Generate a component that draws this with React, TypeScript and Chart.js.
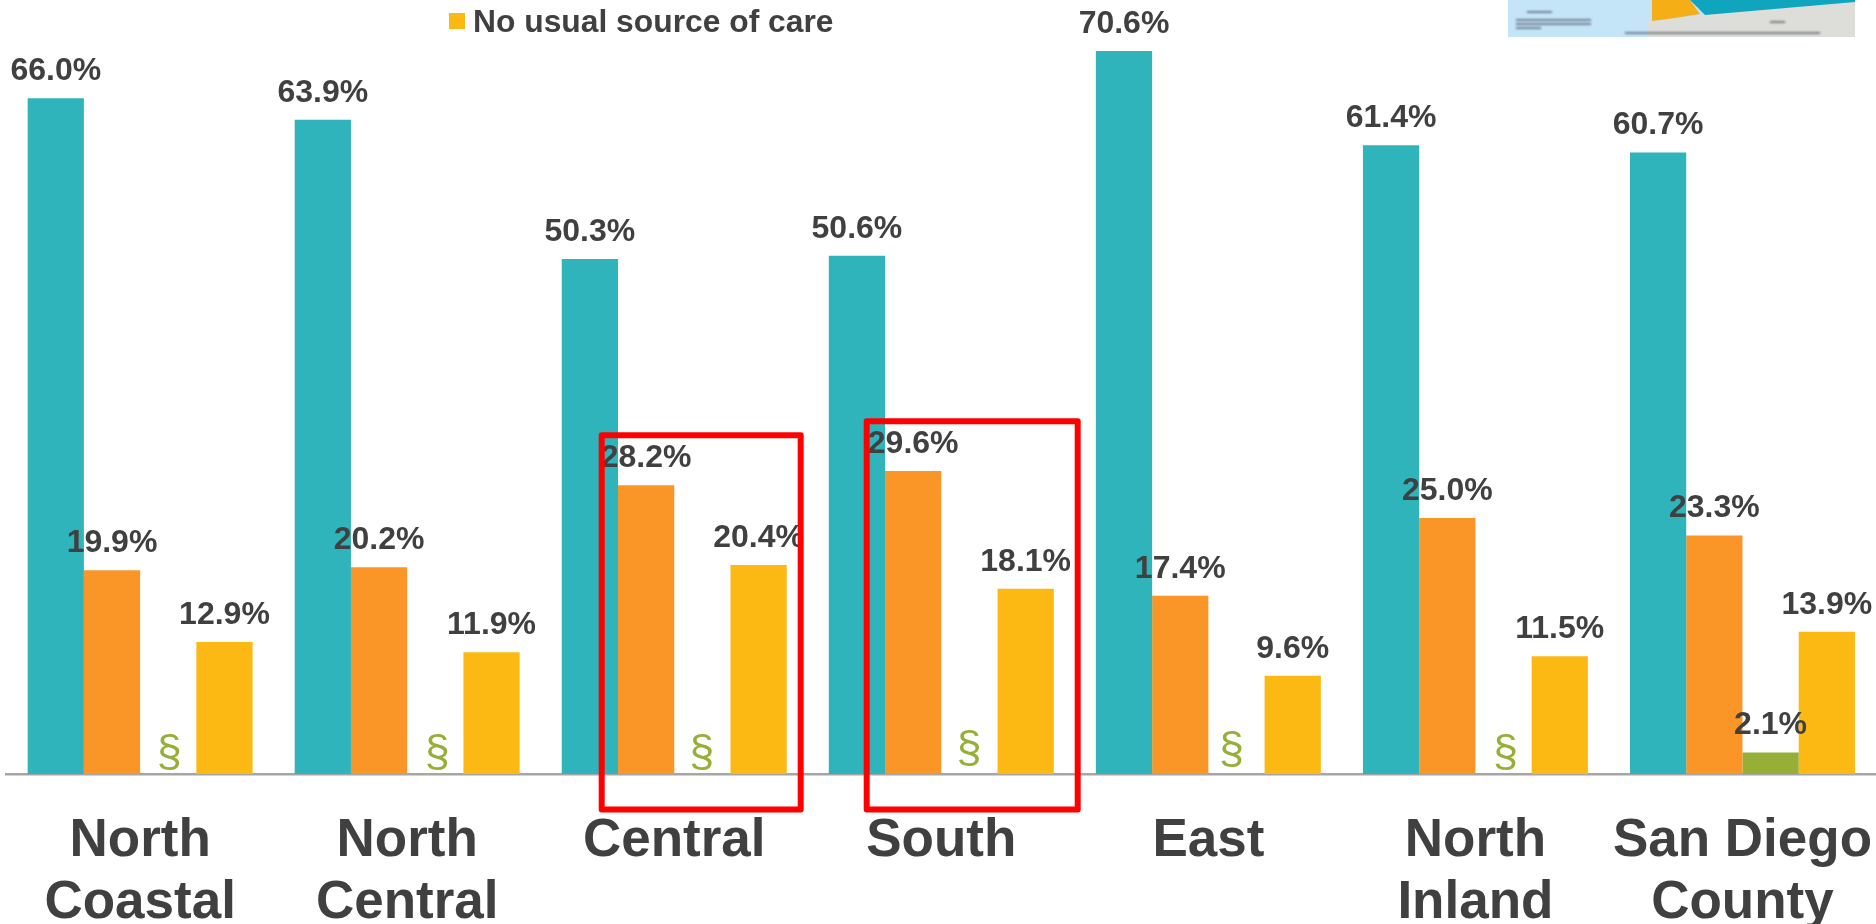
import React, { useEffect, useRef } from "react";
import { Chart, registerables } from "chart.js";

Chart.register(...registerables);

const categories = [
  ["North", "Coastal"],
  ["North", "Central"],
  ["Central"],
  ["South"],
  ["East"],
  ["North", "Inland"],
  ["San Diego", "County"],
];
const seriesA = [66.0, 63.9, 50.3, 50.6, 70.6, 61.4, 60.7];
const seriesB = [19.9, 20.2, 28.2, 29.6, 17.4, 25.0, 23.3];
const seriesC = [null, null, null, null, null, null, 2.1];
const seriesD = [12.9, 11.9, 20.4, 18.1, 9.6, 11.5, 13.9];
const suppressedLift = [2, 2, 1.5, 6, 5, 2, 0];
const suppressedShift = [1, 2, -0.5, -0.5, -5, 2, 0];
const legendLabel = "No usual source of care";

const TEXT = "#404040";
const FONT = '"Liberation Sans", Arial, sans-serif';
const colors = ["#2FB4BC", "#F99627", "#97AF37", "#FDB913"];

const overlay = {
  id: "overlay",
  afterDatasetsDraw(chart: any) {
    const ctx = chart.ctx;
    ctx.save();
    // data labels
    ctx.font = `bold 32px ${FONT}`;
    ctx.fillStyle = TEXT;
    ctx.textAlign = "center";
    ctx.textBaseline = "alphabetic";
    chart.data.datasets.forEach((ds: any, i: number) => {
      chart.getDatasetMeta(i).data.forEach((el: any, j: number) => {
        const v = ds.data[j];
        if (v == null) return;
        ctx.fillText(v.toFixed(1) + "%", el.x, el.y - 18);
      });
    });
    // suppressed markers
    ctx.font = `45px ${FONT}`;
    ctx.fillStyle = colors[2];
    const a = chart.getDatasetMeta(1).data;
    const b = chart.getDatasetMeta(3).data;
    seriesC.forEach((v, j) => {
      if (v != null) return;
      const x = (a[j].x + b[j].x) / 2 + suppressedShift[j];
      ctx.fillText("§", x, chart.chartArea.bottom - 6.5 - suppressedLift[j]);
    });
    // legend (visible entry)
    ctx.fillStyle = colors[3];
    ctx.fillRect(449, 13, 16, 16);
    ctx.fillStyle = TEXT;
    ctx.textAlign = "left";
    ctx.font = `bold 31.8px ${FONT}`;
    ctx.fillText(legendLabel, 473, 32);
    // map thumbnail
    ctx.fillStyle = "#C4E4F8";
    ctx.fillRect(1508, 0, 347, 37);
    ctx.fillStyle = "#DDDDDA";
    ctx.beginPath();
    ctx.moveTo(1648, 37);
    ctx.lineTo(1648, 22);
    ctx.lineTo(1700, 15);
    ctx.lineTo(1855, 2);
    ctx.lineTo(1855, 37);
    ctx.fill();
    ctx.fillStyle = "#F6AE17";
    ctx.beginPath();
    ctx.moveTo(1652, 0);
    ctx.lineTo(1690, 0);
    ctx.lineTo(1700, 14);
    ctx.lineTo(1675, 18);
    ctx.lineTo(1652, 21);
    ctx.fill();
    ctx.fillStyle = "#0FA5BE";
    ctx.beginPath();
    ctx.moveTo(1690, 0);
    ctx.lineTo(1855, 0);
    ctx.lineTo(1855, 2);
    ctx.lineTo(1705, 15);
    ctx.fill();
    ctx.filter = "blur(0.8px)";
    ctx.fillStyle = "rgba(40,50,60,0.55)";
    ctx.fillRect(1527, 11, 25, 2);
    ctx.fillRect(1516, 19, 75, 2);
    ctx.fillRect(1516, 23, 75, 2);
    ctx.fillRect(1516, 27, 25, 2);
    ctx.fillRect(1625, 32, 195, 2);
    ctx.fillRect(1770, 21, 15, 2);
    ctx.filter = "none";
    // highlight boxes
    ctx.strokeStyle = "#FF0000";
    ctx.lineWidth = 6;
    ctx.lineJoin = "round";
    ctx.strokeRect(601.7, 435.3, 199, 374.2);
    ctx.strokeRect(866.7, 421.3, 211, 388.2);
    ctx.restore();
  },
};

export default function App() {
  const ref = useRef<HTMLCanvasElement>(null);
  useEffect(() => {
    const chart = new Chart(ref.current as HTMLCanvasElement, {
      type: "bar",
      plugins: [overlay],
      data: {
        labels: categories,
        datasets: [seriesA, seriesB, seriesC, seriesD].map((data, i) => ({
          data,
          backgroundColor: colors[i],
          borderWidth: 0,
          barPercentage: 1,
          categoryPercentage: 0.8424,
        })),
      } as any,
      options: {
        responsive: false,
        animation: false,
        events: [],
        layout: { padding: { left: 6.6, right: 0, top: 0, bottom: 0 } },
        plugins: { legend: { display: false }, tooltip: { enabled: false } },
        scales: {
          y: { display: false, min: 0, max: 774 / 10.24 },
          x: {
            afterFit(s: any) {
              s.height = 924 - 774;
              s.paddingLeft = 0;
              s.paddingRight = 0;
            },
            grid: { display: false, drawTicks: false },
            border: { display: true, color: "#A6A6A6", width: 2.5 },
            ticks: {
              color: TEXT,
              padding: 37,
              autoSkip: false,
              maxRotation: 0,
              font: { family: FONT, size: 53, weight: "bold", lineHeight: 1.165 },
            },
          },
        },
      },
    } as any);
    return () => chart.destroy();
  }, []);
  return (
    <div style={{ position: "fixed", left: 0, top: 0, width: 1876, height: 924, background: "#fff", overflow: "hidden" }}>
      <canvas ref={ref} width={1876} height={924} style={{ display: "block" }} />
    </div>
  );
}
